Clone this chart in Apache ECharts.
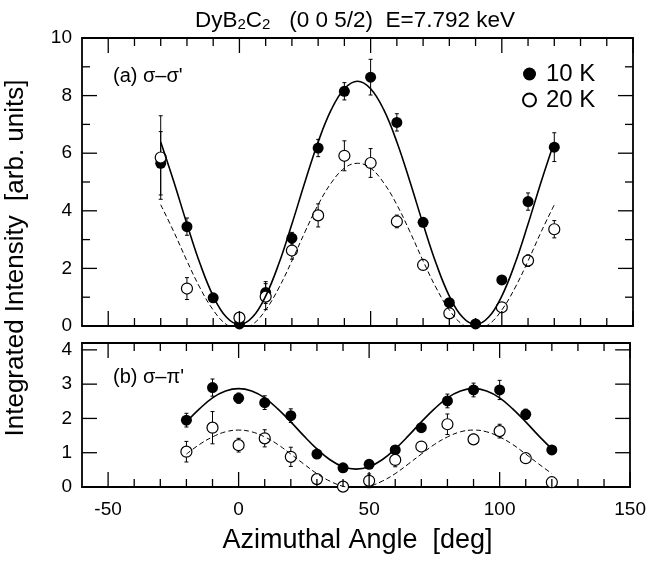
<!DOCTYPE html>
<html>
<head>
<meta charset="utf-8">
<script src="https://cdn.jsdelivr.net/npm/echarts@6/dist/echarts.min.js"></script>
<style>
  html, body { margin: 0; padding: 0; background: #fff; }
  #chart { width: 649px; height: 561px; }
</style>
</head>
<body>
<div id="chart"></div>
<script>
// Measured azimuthal angles (deg)
const angles = [-30, -20, -10, 0, 10, 20, 30, 40, 50, 60, 70, 80, 90, 100, 110, 120];

// (a) sigma-sigma' channel
const ss10K    = [5.65, 3.45, 0.98, 0.07, 1.16, 3.05, 6.18, 8.15, 8.64, 7.07, 3.60, 0.81, 0.07, 1.60, 4.32, 6.21];
const ss10KErr = [1.10, 0.30, 0.10, 0.10, 0.38, 0.20, 0.30, 0.30, 0.62, 0.30, 0.15, 0.10, 0.05, 0.10, 0.30, 0.50];
const ss20K    = [5.85, 1.30, null, 0.29, 1.02, 2.62, 3.84, 5.91, 5.66, 3.63, 2.12, 0.44, null, 0.65, 2.27, 3.36];
const ss20KErr = [1.45, 0.38, null, 0.15, 0.45, 0.30, 0.40, 0.52, 0.50, 0.22, 0.15, 0.10, null, 0.10, 0.20, 0.30];

// (b) sigma-pi' channel
const sp10K    = [null, 1.95, 2.90, 2.59, 2.46, 2.08, 0.96, 0.56, 0.66, 1.08, 1.73, 2.51, 2.83, 2.83, 2.12, 1.08];
const sp10KErr = [null, 0.20, 0.25, 0.15, 0.20, 0.20, 0.08, 0.05, 0.08, 0.10, 0.10, 0.20, 0.20, 0.28, 0.15, 0.08];
const sp20K    = [null, 1.03, 1.73, 1.22, 1.42, 0.88, 0.23, 0.01, 0.18, 0.79, 1.18, 1.83, 1.39, 1.63, 0.84, 0.14];
const sp20KErr = [null, 0.30, 0.47, 0.20, 0.25, 0.28, 0.10, 0.05, 0.20, 0.20, 0.10, 0.30, 0.15, 0.20, 0.08, 0.08];

// Fitted curves, sampled every 5 deg
const fitAnglesA = [-30,-25,-20,-15,-10,-5,0,5,10,15,20,25,30,35,40,45,50,55,60,65,70,75,80,85,90,95,100,105,110,115,120];
const fitSS10K = [6.39,5.01,3.54,2.16,1.04,0.31,0.05,0.31,1.04,2.16,3.54,5.01,6.39,7.51,8.24,8.50,8.24,7.51,6.39,5.01,3.54,2.16,1.04,0.31,0.05,0.31,1.04,2.16,3.54,5.01,6.39];
const fitSS20K = [4.21,3.27,2.26,1.32,0.555,0.054,-0.12,0.054,0.555,1.32,2.26,3.27,4.21,4.97,5.48,5.65,5.48,4.97,4.21,3.27,2.26,1.32,0.555,0.054,-0.12,0.054,0.555,1.32,2.26,3.27,4.21];

const fitAnglesB = [-20,-15,-10,-5,0,5,10,15,20,25,30,35,40,45,50,55,60,65,70,75,80,85,90,95,100,105,110,115,120];
const fitSP10K = [1.90,2.28,2.60,2.80,2.87,2.80,2.60,2.28,1.90,1.49,1.11,0.795,0.59,0.52,0.59,0.795,1.11,1.49,1.90,2.28,2.60,2.80,2.87,2.80,2.60,2.28,1.90,1.49,1.11];
const fitSP20K = [0.96,1.24,1.46,1.61,1.66,1.61,1.46,1.24,0.96,0.67,0.39,0.17,0.02,-0.03,0.02,0.17,0.39,0.67,0.96,1.24,1.46,1.61,1.66,1.61,1.46,1.24,0.96,0.67,0.39];

// Tick positions and labels
const xMajorTicks = [-50, 0, 50, 100, 150];
const xMinorTicks = [-40, -30, -20, -10, 10, 20, 30, 40, 60, 70, 80, 90, 110, 120, 130, 140];
const yMajorTicksA = [2, 4, 6, 8];
const yMinorTicksA = [1, 3, 5, 7, 9];
const yTicksB = [0, 1, 2, 3, 4];

// Axis ranges
const xRange = [-60, 150];
const yRangeA = [0, 10];
const yRangeB = [0, 4.2];

const FONT = 'Liberation Sans, Arial, Helvetica, sans-serif';
const INK = '#000';

const pairs = (xs, ys) => xs.map((x, i) => [x, ys[i]]).filter(p => p[1] != null);

function errorBars(xs, ys, errs, axisIdx) {
  const data = [];
  xs.forEach((x, i) => {
    if (ys[i] != null && errs[i] != null) data.push([x, ys[i] - errs[i], ys[i] + errs[i]]);
  });
  return {
    type: 'custom',
    xAxisIndex: axisIdx, yAxisIndex: axisIdx,
    data: data,
    silent: true,
    encode: { x: 0, y: [1, 2] },
    renderItem: function (params, api) {
      const lo = api.coord([api.value(0), api.value(1)]);
      const hi = api.coord([api.value(0), api.value(2)]);
      const w = 2;
      const style = { stroke: INK, lineWidth: 1 };
      return {
        type: 'group',
        children: [
          { type: 'line', shape: { x1: lo[0], y1: lo[1], x2: hi[0], y2: hi[1] }, style: style },
          { type: 'line', shape: { x1: lo[0] - w, y1: lo[1], x2: lo[0] + w, y2: lo[1] }, style: style },
          { type: 'line', shape: { x1: hi[0] - w, y1: hi[1], x2: hi[0] + w, y2: hi[1] }, style: style }
        ]
      };
    }
  };
}

function fitLine(xs, ys, axisIdx, dashed) {
  return {
    type: 'line',
    xAxisIndex: axisIdx, yAxisIndex: axisIdx,
    data: pairs(xs, ys),
    smooth: 0.4,
    showSymbol: false,
    silent: true,
    clip: true,
    lineStyle: dashed
      ? { color: INK, width: 1, type: [5, 3] }
      : { color: INK, width: 1.6 }
  };
}

function points(name, xs, ys, axisIdx, open) {
  return {
    name: name,
    type: 'scatter',
    xAxisIndex: axisIdx, yAxisIndex: axisIdx,
    data: pairs(xs, ys),
    symbol: 'circle',
    symbolSize: 11,
    itemStyle: open
      ? { color: '#fff', borderColor: INK, borderWidth: 1.2, opacity: 1 }
      : { color: INK, borderColor: INK, borderWidth: 0, opacity: 1 }
  };
}

const lineStyle = { color: INK, width: 1.8 };
const labelStyle = { color: INK, fontFamily: FONT, fontSize: 19 };

function xAxis(grid, pos, withLabels) {
  const ax = {
    type: 'value', gridIndex: grid, position: pos, min: xRange[0], max: xRange[1], interval: 10,
    axisLine: { show: true, onZero: false, lineStyle: lineStyle },
    axisTick: { show: false },
    axisLabel: { show: false },
    splitLine: { show: false }
  };
  if (withLabels) {
    ax.axisLabel = Object.assign({ show: true, customValues: xMajorTicks, margin: 13 }, labelStyle);
  }
  return ax;
}
function yTop(pos, withLabels) {
  return {
    type: 'value', gridIndex: 0, position: pos, min: yRangeA[0], max: yRangeA[1], interval: 2,
    axisLine: { show: true, onZero: false, lineStyle: lineStyle },
    axisTick: { show: false },
    axisLabel: Object.assign({ show: withLabels, margin: 10 }, labelStyle),
    splitLine: { show: false }
  };
}
function yBottom(pos, withLabels) {
  return {
    type: 'value', gridIndex: 1, position: pos, min: yRangeB[0], max: yRangeB[1],
    axisLine: { show: true, onZero: false, lineStyle: lineStyle },
    axisTick: { show: false },
    axisLabel: Object.assign({ show: withLabels, margin: 10, customValues: yTicksB }, labelStyle),
    splitLine: { show: false }
  };
}

// Static text: title, axis titles, panel labels
const textGraphics = [
  {
    type: 'text', x: 355, y: 6, z: 50,
    style: {
      text: '{m|DyB}{s|2}{m|C}{s|2}{m|   (0 0 5/2)  E=7.792 keV}',
      fill: INK,
      textAlign: 'center',
      rich: {
        m: { fontFamily: FONT, fontSize: 22.5, lineHeight: 26, verticalAlign: 'bottom' },
        s: { fontFamily: FONT, fontSize: 15, lineHeight: 15, verticalAlign: 'bottom' }
      }
    }
  },
  {
    type: 'text', x: 357.5, y: 541, z: 50,
    style: {
      text: 'Azimuthal Angle  [deg]',
      fill: INK, font: '27px ' + FONT,
      textAlign: 'center', textVerticalAlign: 'middle'
    }
  },
  {
    type: 'text', x: 16, y: 258, rotation: Math.PI / 2, z: 50,
    style: {
      text: 'Integrated Intensity  [arb. units]',
      fill: INK, font: '26px ' + FONT,
      textAlign: 'center', textVerticalAlign: 'middle'
    }
  },
  {
    type: 'text', x: 113, y: 76, z: 50,
    style: { text: "(a) σ–σ'", fill: INK, font: '20px ' + FONT, textVerticalAlign: 'middle' }
  },
  {
    type: 'text', x: 113, y: 377, z: 50,
    style: { text: "(b) σ–π'", fill: INK, font: '20px ' + FONT, textVerticalAlign: 'middle' }
  }
];

const chart = echarts.init(document.getElementById('chart'), null, { renderer: 'canvas' });

chart.setOption({
  animation: false,
  backgroundColor: '#fff',
  grid: [
    { left: 82, top: 38, width: 551, height: 288 },
    { left: 82, top: 343, width: 551, height: 144 }
  ],
  xAxis: [
    xAxis(0, 'bottom', false), xAxis(1, 'bottom', true),
    xAxis(0, 'top', false), xAxis(1, 'top', false)
  ],
  yAxis: [
    yTop('left', true), yBottom('left', true),
    yTop('right', false), yBottom('right', false)
  ],
  legend: {
    data: ['10 K', '20 K'],
    orient: 'vertical',
    left: 517, top: 57,
    itemWidth: 13, itemHeight: 13, itemGap: 2,
    textStyle: { color: INK, fontFamily: FONT, fontSize: 24, padding: [0, 0, 0, 5] },
    selectedMode: false
  },
  series: [
    fitLine(fitAnglesA, fitSS10K, 0, false),
    fitLine(fitAnglesA, fitSS20K, 0, true),
    errorBars(angles, ss10K, ss10KErr, 0),
    errorBars(angles, ss20K, ss20KErr, 0),
    points('10 K', angles, ss10K, 0, false),
    points('20 K', angles, ss20K, 0, true),

    fitLine(fitAnglesB, fitSP10K, 1, false),
    fitLine(fitAnglesB, fitSP20K, 1, true),
    errorBars(angles, sp10K, sp10KErr, 1),
    errorBars(angles, sp20K, sp20KErr, 1),
    points('10 K', angles, sp10K, 1, false),
    points('20 K', angles, sp20K, 1, true)
  ]
});

// Inward tick marks on all four sides, placed through each grid's own scales
function panelTicks(gridIndex, yRange, yMajor, yMinor) {
  const els = [];
  const px = (x, y) => chart.convertToPixel({ gridIndex: gridIndex }, [x, y]);
  const seg = (x1, y1, x2, y2) => els.push({
    type: 'line', z: 60, silent: true,
    shape: { x1: x1, y1: y1, x2: x2, y2: y2 },
    style: { stroke: INK, lineWidth: 1.3 }
  });
  const xTick = (v, len) => {
    const b = px(v, yRange[0]);
    const t = px(v, yRange[1]);
    seg(b[0], b[1], b[0], b[1] - len);
    seg(t[0], t[1], t[0], t[1] + len);
  };
  const yTick = (v, len) => {
    const l = px(xRange[0], v);
    const r = px(xRange[1], v);
    seg(l[0], l[1], l[0] + len, l[1]);
    seg(r[0], r[1], r[0] - len, r[1]);
  };
  xMinorTicks.forEach(v => xTick(v, 8));
  xMajorTicks.forEach(v => xTick(v, 15));
  yMinor.forEach(v => yTick(v, 8));
  yMajor.forEach(v => yTick(v, 15));
  return els;
}

chart.setOption({
  graphic: textGraphics
    .concat(panelTicks(0, yRangeA, yMajorTicksA, yMinorTicksA))
    .concat(panelTicks(1, yRangeB, yTicksB, []))
});
</script>
</body>
</html>
